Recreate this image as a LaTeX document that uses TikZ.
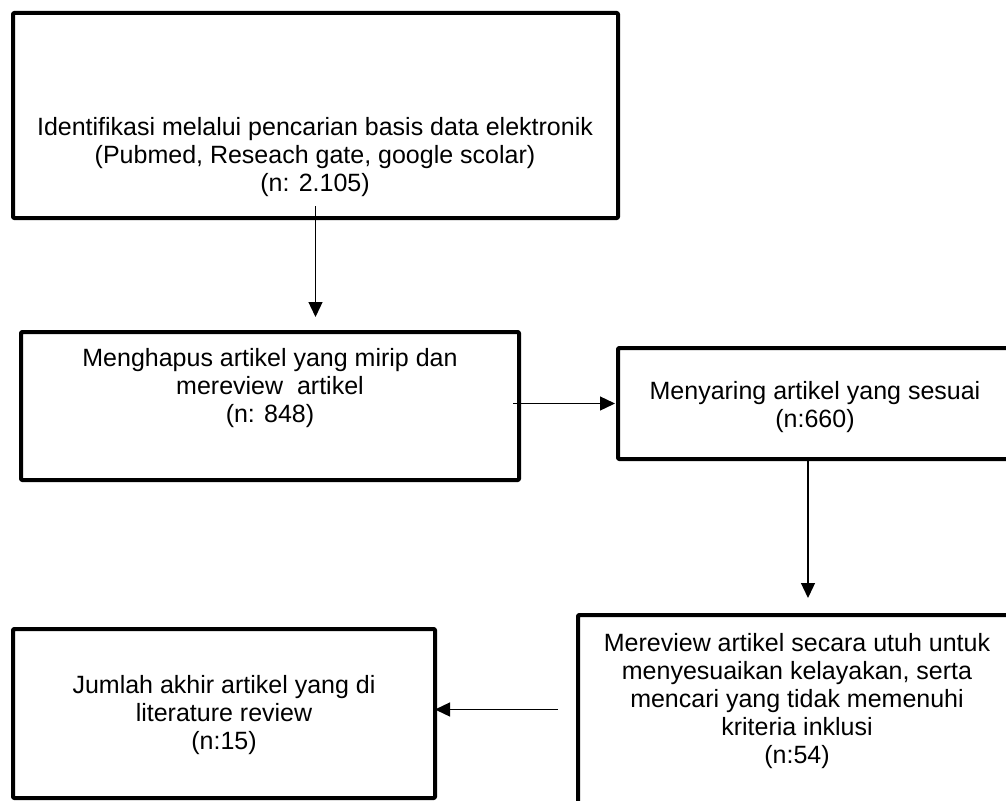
\documentclass[tikz,border=0pt]{standalone}
\usepackage{fontspec}
\setmainfont{Liberation Sans}
\usetikzlibrary{arrows.meta,calc}
\begin{document}
\begin{tikzpicture}[x=1pt,y=-1pt,
  box/.style={draw=black, line width=4pt, rectangle, outer sep=0pt, inner sep=0pt, line join=round, rounded corners=1pt},
  txt/.style={align=center, font=\fontsize{25}{28}\selectfont, inner sep=0pt},
  arr/.style={line width=1.3pt, -{Triangle[length=15pt,width=14pt]}}]
\useasboundingbox (0,0) rectangle (1006,800);
\clip (0,0) rectangle (1006,800);
\node[box, minimum width=605pt, minimum height=205pt] (b1) at (315.5,115.5) {};
\node[box, minimum width=498pt, minimum height=148pt] (b2) at (270,406) {};
\node[box, minimum width=394pt, minimum height=111pt] (b3) at (815,403.5) {};
\node[box, minimum width=438pt, minimum height=195pt] (b4) at (797,712.5) {};
\node[box, minimum width=422pt, minimum height=169pt] (b5) at (224,713.5) {};
\node[txt] (t1) at (315,157) {Identifikasi melalui pencarian basis data elektronik\\(Pubmed, Reseach gate, google scolar)\\(n: 2.105)};
\node[txt] (t2) at (270,388) {Menghapus artikel yang mirip dan\\mereview~ artikel\\(n: 848)};
\node[txt] (t3) at (815,407.5) {Menyaring artikel yang sesuai\\(n:660)};
\node[txt] (t4) at (797,701) {Mereview artikel secara utuh untuk\\menyesuaikan kelayakan, serta\\mencari yang tidak memenuhi\\kriteria inklusi\\(n:54)};
\node[txt] (t5) at (224,715) {Jumlah akhir artikel yang di\\literature review\\(n:15)};
\draw[arr] ([yshift=12pt]b1.south) -- ([yshift=15pt]b1.south |- b2.north);
\draw[arr] ([xshift=-6pt]b2.east |- b3.west) -- ([xshift=-3pt]b3.west);
\draw[arr] ([xshift=-7pt]b3.south) -- ([xshift=-7pt,yshift=17pt]b3.south |- b4.north);
\draw[arr] ([xshift=-20pt,yshift=3pt]b4.west) -- ([yshift=3pt]b4.west -| b5.east);
\end{tikzpicture}
\end{document}
